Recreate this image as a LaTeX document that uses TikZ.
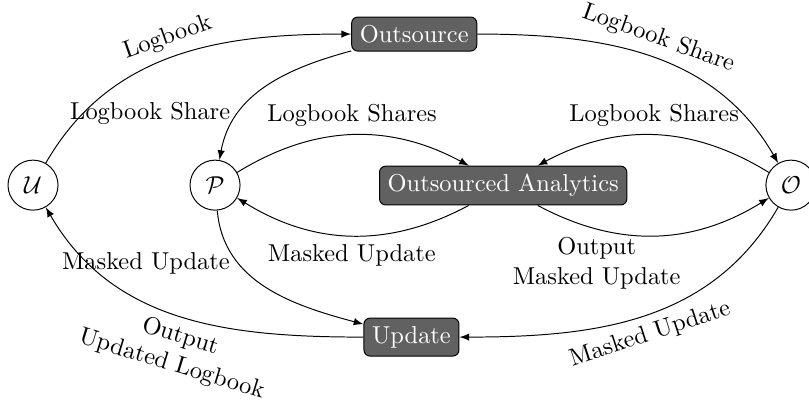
\documentclass[tikz,border=0pt]{standalone}
\usepackage{amsmath}
\usepackage{amssymb}
\usepackage{tikz}
\usetikzlibrary{arrows}

\begin{document}
\begin{tikzpicture}
\tikzset{party/.style={draw,circle,minimum size=0.72cm,inner sep=0pt}}
\tikzset{service/.style={draw,rounded corners=2.5pt,fill=black!62,text=white}}
\useasboundingbox (0,0) rectangle (11.64,5.83);

\node[party] (u) at (0.475,3.166) {$\mathcal{U}$};
\node[party] (p) at (3.094,3.166) {$\mathcal{P}$};
\node[party] (o) at (11.38,3.166) {$\mathcal{O}$};
\node[service] (outsource) at (5.96,5.34) {Outsource};
\node[service] (analytics) at (7.24,3.16) {Outsourced Analytics};
\node[service] (update) at (5.92,0.98) {Update};

\draw[-latex] (u) to [out=60,in=180] node[pos=0.5,sloped,above] {Logbook} (outsource);
\draw[-latex] (outsource) to [out=195,in=80] node[pos=0.72,left] {Logbook Share} (p);
\draw[-latex] (outsource) to [out=0,in=120] node[sloped,above] {Logbook Share} (o);
\draw[-latex] (p) to [bend left=30] node[above] {Logbook Shares} (analytics);
\draw[-latex] (o) to [bend right=30] node[above] {Logbook Shares} (analytics);
\draw[-latex] (analytics) to [bend left=30] node[below] {Masked Update} (p);
\draw[-latex] (analytics) to [bend right=30] node[pos=0.25,below,align=center] {Output\\Masked Update} (o);
\draw[-latex] (p) to [out=-85,in=165] node[pos=0.3,left] {Masked Update} (update);
\draw[-latex] (update) to [out=180,in=-60] node[pos=0.48,sloped,below,align=center] {Output\\Updated Logbook} (u);
\draw[-latex] (o) to [out=240,in=0] node[sloped,below] {Masked Update} (update);

\end{tikzpicture}
\end{document}
